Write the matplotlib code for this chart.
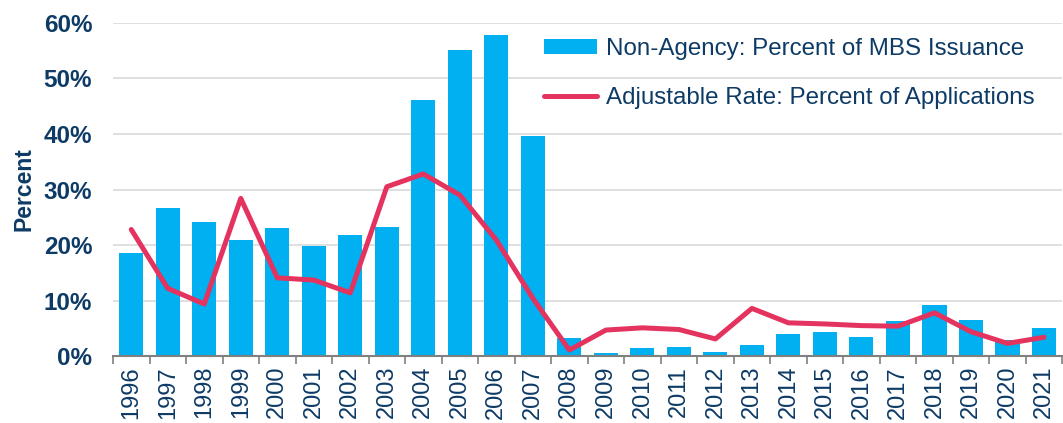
import numpy as np
import matplotlib.pyplot as plt
from matplotlib.ticker import FuncFormatter


years = [str(y) for y in range(1996, 2022)]
non_agency = [18.5, 26.7, 24.1, 20.9, 23.1, 19.8, 21.9, 23.2, 46.1, 55.1, 57.8, 39.6, 3.3,
              0.5, 1.5, 1.7, 0.7, 2.0, 4.0, 4.3, 3.5, 6.4, 9.3, 6.5, 2.9, 5.0]
adjustable = [22.8, 12.2, 9.4, 28.4, 14.1, 13.7, 11.4, 30.5, 32.8, 29.0, 20.9, 10.4, 1.1,
              4.7, 5.1, 4.8, 3.1, 8.6, 6.0, 5.8, 5.5, 5.4, 7.8, 4.4, 2.3, 3.4]

BAR_COLOR = "#00B0F0"
LINE_COLOR = "#E4335F"
TEXT_COLOR = "#0D3B66"

plt.rcParams["font.family"] = ["Liberation Sans", "DejaVu Sans"]

fig = plt.figure(figsize=(10.63, 4.23), dpi=100)
ax = fig.add_axes([0.1063, 0.158, 0.893, 0.788])

x = np.arange(len(years))
bars = ax.bar(x, non_agency, width=0.66, color=BAR_COLOR, zorder=2,
              label="Non-Agency: Percent of MBS Issuance")
line, = ax.plot(x, adjustable, color=LINE_COLOR, lw=3.6, zorder=3, solid_joinstyle="round",
                solid_capstyle="round", label="Adjustable Rate: Percent of Applications")

ax.set_xlim(-0.5, len(years) - 0.5)
ax.set_ylim(0, 60)
ax.set_yticks(np.arange(0, 61, 10))
ax.yaxis.set_major_formatter(FuncFormatter(lambda v, p: f"{v:.0f}%"))
ax.grid(axis="y", color="#D9D9D9", lw=1.2, zorder=0)

# category ticks sit between bars
ax.set_xticks(x)
ax.set_xticklabels(years, rotation=90, fontsize=17, color=TEXT_COLOR)
ax.set_xticks(np.arange(-0.5, len(years), 1), minor=True)
ax.tick_params(axis="x", which="major", length=0, pad=7)
ax.tick_params(axis="x", which="minor", length=6, width=1.2, color="#808080", direction="out")
ax.tick_params(axis="y", length=0, pad=15)
for lab in ax.get_yticklabels():
    lab.set_fontsize(17.5)
    lab.set_fontweight("bold")
    lab.set_color(TEXT_COLOR)

for s in ["top", "right", "left"]:
    ax.spines[s].set_visible(False)
ax.spines["bottom"].set_color("#808080")
ax.spines["bottom"].set_linewidth(1.5)

ax.set_ylabel("Percent", fontsize=16.5, fontweight="bold", color=TEXT_COLOR, labelpad=6)

leg = ax.legend([bars, line], [bars.get_label(), line.get_label()],
                loc="upper left", bbox_to_anchor=(0.431, 1.02), frameon=False, fontsize=17.4,
                handlelength=2.2, handleheight=0.55, labelspacing=1.1, handletextpad=0.35)
for t in leg.get_texts():
    t.set_color(TEXT_COLOR)

fig.savefig("out.png", dpi=100)
